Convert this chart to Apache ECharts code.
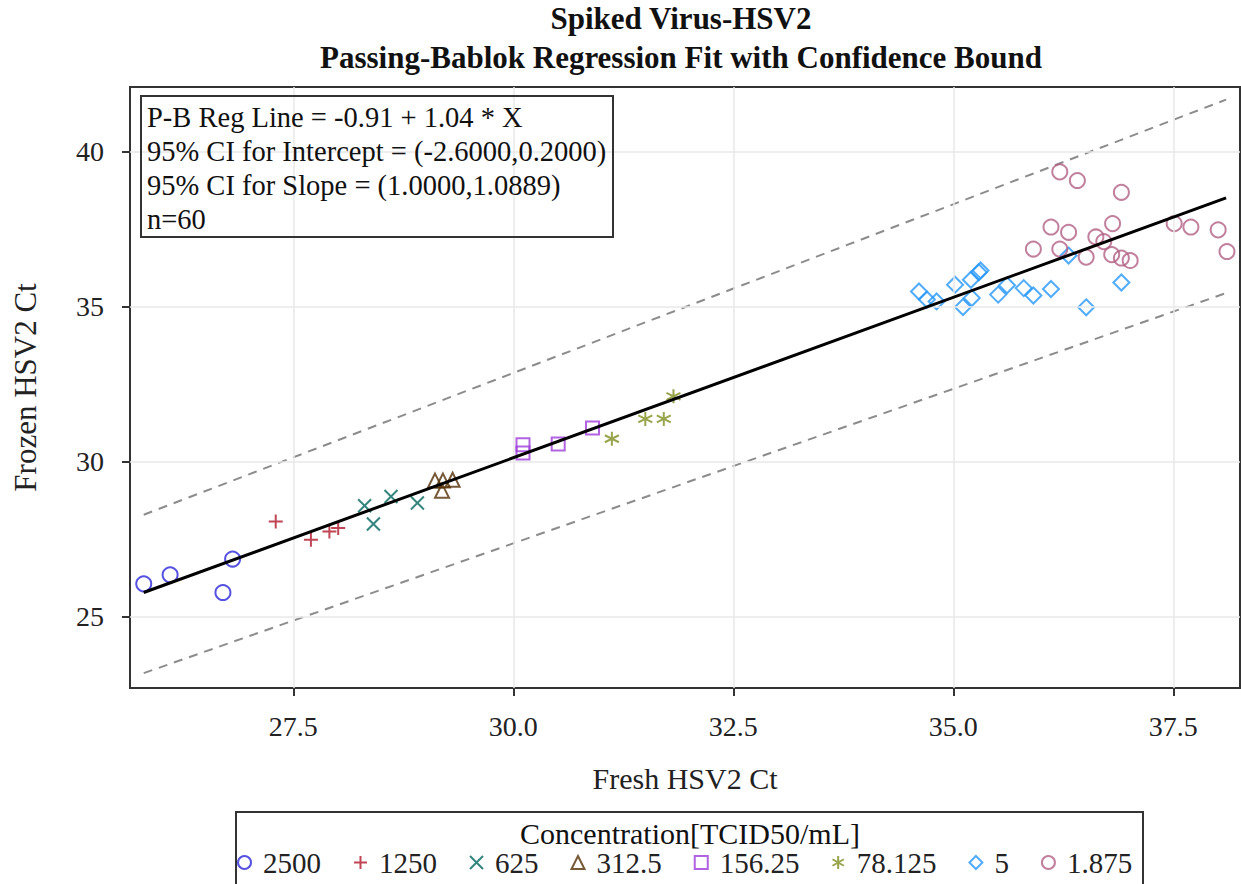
<!DOCTYPE html>
<html><head><meta charset="utf-8">
<script src="https://cdn.jsdelivr.net/npm/echarts@6/dist/echarts.min.js"></script>
<style>html,body{margin:0;padding:0;background:#fff}#c{width:1241px;height:884px}</style>
</head><body><div id="c"></div>
<script>
// ---- data ----
const titleLines = ['Spiked Virus-HSV2', 'Passing-Bablok Regression Fit with Confidence Bound'];
const xAxisTitle = 'Fresh HSV2 Ct';
const yAxisTitle = 'Frozen HSV2 Ct';
const xTicks = [27.5, 30.0, 32.5, 35.0, 37.5];
const yTicks = [25, 30, 35, 40];
const legendTitle = 'Concentration[TCID50/mL]';
const concentrations = ['2500', '1250', '625', '312.5', '156.25', '78.125', '5', '1.875'];
const statsLines = [
  'P-B Reg Line = -0.91 + 1.04 * X',
  '95% CI for Intercept = (-2.6000,0.2000)',
  '95% CI for Slope = (1.0000,1.0889)',
  'n=60'
];

const fresh2500 = [25.80, 26.10, 26.81, 26.70];
const frozen2500 = [26.06, 26.35, 26.86, 25.78];
const fresh1250 = [27.30, 27.70, 27.91, 28.01];
const frozen1250 = [28.07, 27.48, 27.75, 27.86];
const fresh625 = [28.31, 28.61, 28.41, 28.91];
const frozen625 = [28.58, 28.88, 27.99, 28.67];
const fresh312 = [29.11, 29.20, 29.31, 29.19];
const frozen312 = [29.39, 29.39, 29.42, 29.06];
const fresh156 = [30.11, 30.11, 30.51, 30.90];
const frozen156 = [30.55, 30.28, 30.57, 31.09];
const fresh78 = [31.12, 31.50, 31.71, 31.82];
const frozen78 = [30.74, 31.38, 31.38, 32.11];
const fresh5 = [34.61, 34.70, 34.81, 35.02, 35.11, 35.21, 35.20, 35.29, 35.31, 35.51, 35.61, 35.80, 35.91, 36.11, 36.31, 36.51, 36.91];
const frozen5 = [35.49, 35.23, 35.17, 35.71, 34.99, 35.28, 35.87, 36.11, 36.17, 35.39, 35.69, 35.60, 35.36, 35.57, 36.65, 34.98, 35.78];
const fresh1875 = [36.21, 36.41, 36.91, 36.11, 36.31, 35.91, 36.21, 36.62, 36.71, 36.81, 36.51, 36.80, 36.91, 37.01, 37.51, 37.70, 38.01, 38.11];
const frozen1875 = [39.35, 39.07, 38.69, 37.57, 37.40, 36.86, 36.86, 37.25, 37.10, 37.68, 36.60, 36.68, 36.57, 36.49, 37.68, 37.57, 37.48, 36.78];

const fitX = [25.80, 38.10];
const fitY = [25.78, 38.51];
const upperY = [28.29, 41.68];
const lowerY = [23.18, 35.44];

// ---- styling ----
const FONT = 'Liberation Serif';
const colors = ['#2A25D9', '#B2182B', '#01665E', '#543005', '#9D3CDB', '#7F8E1F', '#2597FA', '#B26084'];
const symbols = ['circle', 'path://M7,0L7,14M0,7L14,7', 'path://M0,0L14,14M14,0L0,14', 'triangle', 'rect',
  'path://M7,0L7,14M0.9,3.5L13.1,10.5M0.9,10.5L13.1,3.5', 'diamond', 'circle'];
const sizes = [15, 14, 13, 14, 13, 14, 16, 15];
const freshAll = [fresh2500, fresh1250, fresh625, fresh312, fresh156, fresh78, fresh5, fresh1875];
const frozenAll = [frozen2500, frozen1250, frozen625, frozen312, frozen156, frozen78, frozen5, frozen1875];

const chart = echarts.init(document.getElementById('c'), null, { renderer: 'svg' });

const series = [];
series.push({
  type: 'line', name: 'grid', data: [], silent: true,
  markLine: {
    silent: true, symbol: 'none', label: { show: false }, animation: false,
    lineStyle: { color: '#e8e8e8', type: 'solid', width: 1.5 },
    data: xTicks.map(v => ({ xAxis: v })).concat(yTicks.map(v => ({ yAxis: v })))
  }
});
series.push({
  type: 'line', name: 'upper', data: fitX.map((x, i) => [x, upperY[i]]), symbol: 'none', silent: true,
  lineStyle: { color: '#8c8c8c', width: 2, type: [9, 7] }, z: 3
});
series.push({
  type: 'line', name: 'lower', data: fitX.map((x, i) => [x, lowerY[i]]), symbol: 'none', silent: true,
  lineStyle: { color: '#8c8c8c', width: 2, type: [9, 7] }, z: 3
});
concentrations.forEach((c, k) => {
  series.push({
    type: 'scatter', name: c,
    data: freshAll[k].map((x, i) => [x, frozenAll[k][i]]),
    symbol: symbols[k], symbolSize: sizes[k],
    itemStyle: { color: 'rgba(255,255,255,0)', borderColor: colors[k], borderWidth: 2 },
    z: 4
  });
});
series.push({
  type: 'line', name: 'fit', data: fitX.map((x, i) => [x, fitY[i]]), symbol: 'none', silent: true,
  lineStyle: { color: '#000', width: 3 }, z: 5
});

const graphic = [];
titleLines.forEach((t, i) => graphic.push({
  type: 'text', x: 681, y: 18 + i * 39, silent: true,
  style: { text: t, font: 'bold 31px "Liberation Serif"', fill: '#111', textAlign: 'center', textVerticalAlign: 'middle' }
}));
graphic.push({ type: 'rect', shape: { x: 141, y: 96, width: 472, height: 141 }, style: { fill: 'none', stroke: '#333', lineWidth: 2 }, z: 10, silent: true });
statsLines.forEach((t, i) => graphic.push({
  type: 'text', x: 147, y: 117 + i * 34, silent: true, z: 10,
  style: { text: t, font: '28.5px "Liberation Serif"', fill: '#111', textAlign: 'left', textVerticalAlign: 'middle' }
}));
graphic.push({ type: 'rect', shape: { x: 236, y: 812, width: 907, height: 90 }, style: { fill: 'none', stroke: '#333', lineWidth: 2 }, z: 10, silent: true });
graphic.push({
  type: 'text', x: 690, y: 833, silent: true, z: 10,
  style: { text: legendTitle, font: '30px "Liberation Serif"', fill: '#111', textAlign: 'center', textVerticalAlign: 'middle' }
});

chart.setOption({
  animation: false,
  backgroundColor: '#fff',
  grid: { left: 130, top: 87, right: 1, bottom: 196, show: true, borderColor: '#333', borderWidth: 2, backgroundColor: 'rgba(0,0,0,0)' },
  xAxis: {
    type: 'value', min: 25.644, max: 38.258,
    axisLine: { show: true, onZero: false, lineStyle: { color: '#333', width: 2 } },
    axisTick: { show: true, length: 8, customValues: xTicks, lineStyle: { color: '#333', width: 2 } },
    axisLabel: { customValues: xTicks, formatter: v => v.toFixed(1), fontSize: 28, fontFamily: FONT, color: '#222', margin: 24 },
    splitLine: { show: false },
    name: xAxisTitle, nameLocation: 'middle', nameGap: 75,
    nameTextStyle: { fontSize: 30, fontFamily: FONT, color: '#222' }
  },
  yAxis: {
    type: 'value', min: 22.70, max: 42.087,
    axisLine: { show: true, onZero: false, lineStyle: { color: '#333', width: 2 } },
    axisTick: { show: true, length: 8, customValues: yTicks, lineStyle: { color: '#333', width: 2 } },
    axisLabel: { customValues: yTicks, formatter: v => String(Math.round(v)), fontSize: 28, fontFamily: FONT, color: '#222', margin: 26 },
    splitLine: { show: false },
    name: yAxisTitle, nameLocation: 'middle', nameGap: 89,
    nameTextStyle: { fontSize: 31, fontFamily: FONT, color: '#222' }
  },
  legend: {
    data: concentrations, left: 237, top: 848, padding: 0,
    itemWidth: 13, itemHeight: 13, itemGap: 32, selectedMode: false,
    itemStyle: { borderWidth: 2 },
    textStyle: { fontSize: 29, fontFamily: FONT, color: '#222', padding: [0, 0, 0, 7] }
  },
  graphic: graphic,
  series: series
});
</script></body></html>
